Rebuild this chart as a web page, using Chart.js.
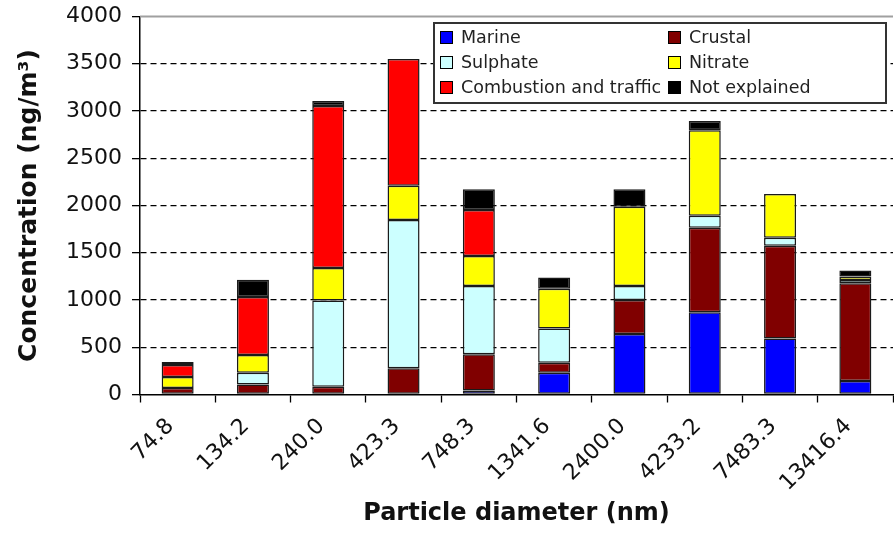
<!DOCTYPE html>
<html>
<head>
<meta charset="utf-8">
<script src="https://cdn.jsdelivr.net/npm/chart.js@4/dist/chart.umd.min.js"></script>
<style>
  html, body { margin: 0; padding: 0; background: #fff; }
  #wrap { width: 894px; height: 534px; }
</style>
</head>
<body>
<div id="wrap"><canvas id="myChart" width="894" height="534"></canvas></div>
<script>
// particle size classes (nm)
const diameters = ["74.8", "134.2", "240.0", "423.3", "748.3", "1341.6", "2400.0", "4233.2", "7483.3", "13416.4"];

// source contributions, ng/m3
const marine = [null, null, null, null, 43, 231, 639, 870, 593, 142];
const crustal = [70, 106, 82, 277, 383, 106, 362, 894, 980, 1035];
const sulphate = [null, 125, 912, 1569, 721, 362, 146, 128, 85, 35];
const nitrate = [115, 188, 344, 362, 319, 419, 841, 905, 465, 37];
const combustion = [127, 614, 1715, 1342, 487, null, null, null, null, null];
const notExplained = [32, 181, 53, null, 220, 121, 185, 96, null, 62];

const yTicks = [0, 500, 1000, 1500, 2000, 2500, 3000, 3500, 4000];

const series = [
  { label: "Marine", data: marine, color: "#0000ff" },
  { label: "Crustal", data: crustal, color: "#800000" },
  { label: "Sulphate", data: sulphate, color: "#ccffff" },
  { label: "Nitrate", data: nitrate, color: "#ffff00" },
  { label: "Combustion and traffic", data: combustion, color: "#ff0000" },
  { label: "Not explained", data: notExplained, color: "#000000" },
];

const FONT = "'DejaVu Sans', sans-serif";

// legend drawn as a boxed 2-column grid in the top right of the plot
const boxLegend = {
  id: "boxLegend",
  afterDraw(chart) {
    const ctx = chart.ctx;
    const area = chart.chartArea;
    ctx.save();
    // grey frame line at the top of the plot
    ctx.strokeStyle = "#a0a0a0";
    ctx.lineWidth = 2;
    ctx.beginPath();
    ctx.moveTo(area.left, area.top);
    ctx.lineTo(area.right, area.top);
    ctx.stroke();

    const w = 452, h = 80;
    const x0 = area.right - 7 - w;
    const y0 = area.top + 6.5;
    ctx.fillStyle = "#fff";
    ctx.fillRect(x0, y0, w, h);
    ctx.strokeStyle = "#333";
    ctx.lineWidth = 2;
    ctx.strokeRect(x0, y0, w, h);

    ctx.font = "17.5px " + FONT;
    ctx.textBaseline = "middle";
    chart.data.datasets.forEach((ds, i) => {
      const col = i % 2, row = Math.floor(i / 2);
      const mx = x0 + 6 + col * 228;
      const my = y0 + 14.5 + row * 25;
      ctx.fillStyle = ds.backgroundColor;
      ctx.fillRect(mx, my - 6.5, 13, 13);
      ctx.strokeStyle = "#000";
      ctx.lineWidth = 1;
      ctx.strokeRect(mx + 0.5, my - 6, 12, 12);
      ctx.fillStyle = "#222";
      ctx.fillText(ds.label, mx + 21, my + 1);
    });
    ctx.restore();
  },
};

const data = {
  labels: diameters,
  datasets: series.map((s) => ({
    label: s.label,
    data: s.data,
    backgroundColor: s.color,
    borderColor: "#1a1a1a",
    borderWidth: 1.5,
    borderSkipped: false,
    categoryPercentage: 1,
    barPercentage: 0.425,
  })),
};

const config = {
  type: "bar",
  data,
  plugins: [boxLegend],
  options: {
    responsive: false,
    animation: false,
    devicePixelRatio: 1,
    layout: { padding: { top: 16.5, right: 1, left: 0, bottom: 0 } },
    plugins: {
      legend: { display: false },
      tooltip: { enabled: false },
    },
    scales: {
      x: {
        stacked: true,
        afterFit: (scale) => { scale.height = 139.5; },
        grid: {
          drawOnChartArea: false,
          offset: true,
          tickLength: 8,
          color: "#000",
          tickWidth: 1.3,
        },
        border: { display: true, color: "#000", width: 1.5 },
        ticks: {
          color: "#111",
          font: { family: FONT, size: 22 },
          maxRotation: 45,
          minRotation: 45,
          padding: 11,
          labelOffset: -7,
        },
        title: {
          display: true,
          text: "Particle diameter (nm)",
          color: "#111",
          font: { family: FONT, size: 24, weight: "bold" },
          padding: { top: 0, bottom: 6 },
        },
      },
      y: {
        stacked: true,
        min: 0,
        max: 4000,
        afterFit: (scale) => {
          scale.width = 140;
          scale.paddingTop = 0;
          scale.paddingBottom = 0;
        },
        afterBuildTicks: (scale) => {
          scale.ticks = yTicks.map((v) => ({ value: v }));
        },
        grid: {
          color: (c) => (c.tick && (c.tick.value === 0 || c.tick.value === 4000) ? "rgba(0,0,0,0)" : "#000"),
          lineWidth: 1.3,
          tickColor: "#000",
          tickLength: 8,
          tickBorderDash: [],
        },
        border: { display: true, color: "#000", width: 1.5, dash: [6, 4] },
        ticks: {
          color: "#111",
          font: { family: FONT, size: 22 },
          padding: 10,
          callback: (v) => String(v),
        },
        title: {
          display: true,
          text: "Concentration (ng/m³)",
          color: "#111",
          font: { family: FONT, size: 25, weight: "bold" },
          padding: { top: 14, bottom: 0 },
        },
      },
    },
  },
};

// init renderer
const myChart = new Chart(document.getElementById("myChart"), config);
</script>
</body>
</html>
